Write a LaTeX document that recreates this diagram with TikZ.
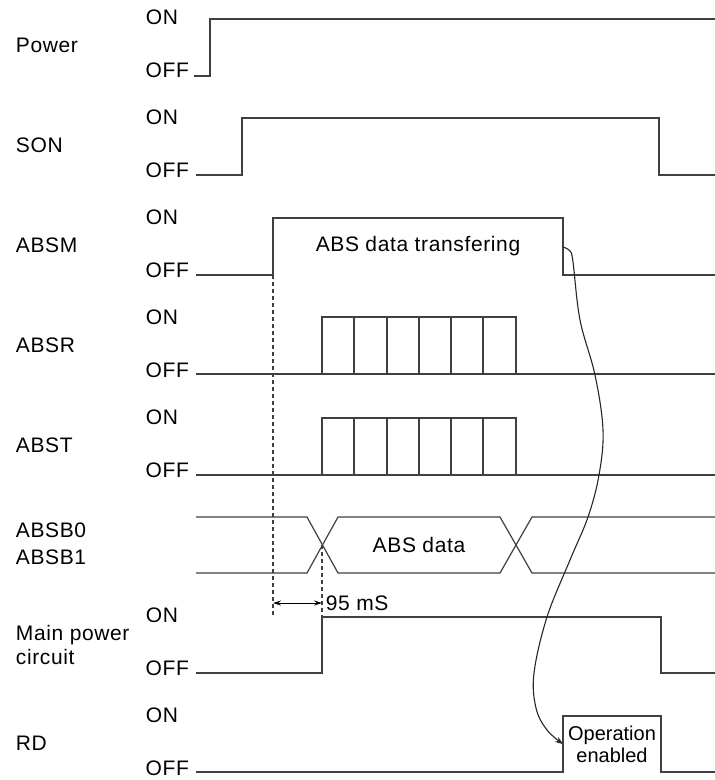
\documentclass[tikz,border=0pt]{standalone}
\usepackage{fontspec}
\setmainfont[LetterSpace=3]{Liberation Sans}
\usetikzlibrary{arrows.meta}
\begin{document}
\begin{tikzpicture}[x=1pt,y=-1pt,font=\fontsize{21}{24}\selectfont,line width=1.2pt,line join=miter]
\useasboundingbox (0,0) rectangle (715,780);
\foreach \y/\sig in {0/Power,100/SON,200/ABSM,300/ABSR,400/ABST,698/RD}
{
	\node[anchor=west] (name\y) at (12,\y+45) {\sig};
}
\node[anchor=west,align=left] (name598) at (12,645) {Main power\\circuit};
\node[anchor=west] (nameB0) at (12,530) {ABSB0};
\node[anchor=west] (nameB1) at (12,557) {ABSB1};
\foreach \y in {0,100,200,300,400,598,698}
{
	\node[anchor=west] (on\y) at (142,\y+17) {ON};
	\node[anchor=west,inner sep=1pt] (off\y) at (144,\y+70) {OFF};
}
% signals
\draw[black!75] (194,76) -- (210,76) -- (210,19) -- (715,19);
\draw[black!75] (196,175) -- (242,175) -- (242,118) -- (659,118) -- (659,175) -- (715,175);
\draw[black!75] (196,275) -- (273,275) -- (273,218) -- (563,218) -- (563,275) -- (715,275);
\foreach \y in {374,475}
{
	\draw[black!75] (196,\y) -- (715,\y);
	\draw[black!75] (322,\y) -- (322,\y-57) -- (516,\y-57) -- (516,\y);
	\foreach \x in {354,387,419,451,483}
	{
		\draw[black!75] (\x,\y) -- (\x,\y-57);
	}
}
\draw[black!75] (196,517) -- (307,517) -- (338,573) -- (500,573) -- (532,517) -- (715,517);
\draw[black!75] (196,573) -- (307,573) -- (338,517) -- (500,517) -- (532,573) -- (715,573);
\draw[black!75] (196,673) -- (322,673) -- (322,617) -- (661,617) -- (661,673) -- (715,673);
\draw[black!75] (196,772) -- (563,772) -- (563,716) -- (661,716) -- (661,772) -- (715,772);
\node (transfer) at (418,246) {ABS data transfering};
\node (absdata) at (419,545) {ABS data};
\node[align=center,inner sep=0pt,font=\fontsize{20}{22}\selectfont\addfontfeature{LetterSpace=0}] (enabled) at (612,744) {Operation\\enabled};
\draw[black!75,dashed,dash pattern=on 4pt off 3pt] (273,275) -- (273,617);
\draw[black!75,dashed,dash pattern=on 4pt off 3pt] (322,545) -- (322,617);
\draw[black,line width=1pt,{Stealth[length=8pt,width=5pt]}-{Stealth[length=8pt,width=5pt]}] (273,603) -- (322,603) node[anchor=west] (delay) {95 mS};
\draw[black!85,line width=1.1pt,-{Stealth[length=8pt,width=6pt]}] plot[smooth,tension=0.6] coordinates {(563,247) (570,251) (573,262) (580,320) (595,375) (603,430) (599,475) (588,517) (570,560) (547,617) (534,673) (536,708) (547,730) (563,744)};
\end{tikzpicture}
\end{document}
